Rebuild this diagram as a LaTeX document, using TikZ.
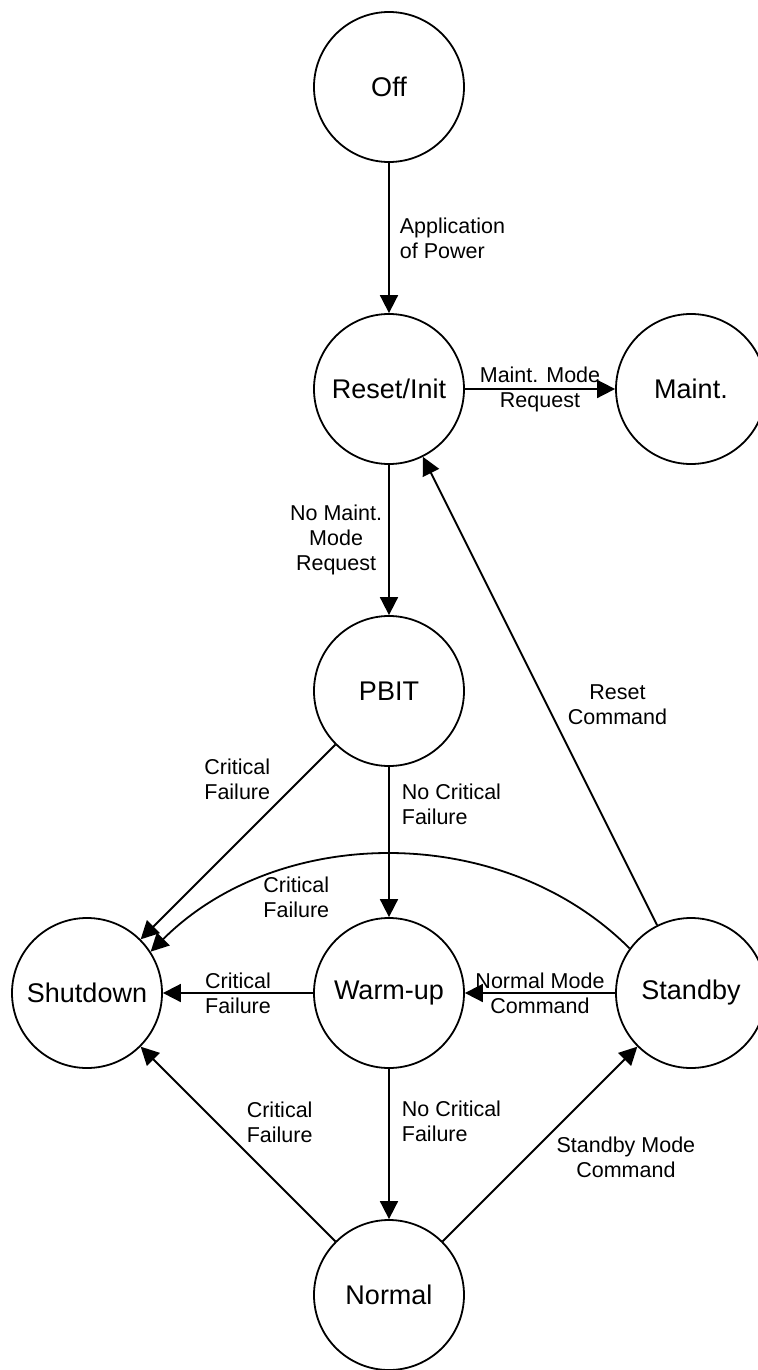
\documentclass[tikz,border=0pt]{standalone}
\usepackage{fontspec}
\setmainfont{Liberation Sans}
\usepackage{tikz}
\usetikzlibrary{arrows.meta,positioning}

\tikzset{
  state/.style={circle,draw,line width=.9pt,minimum size=75pt,inner sep=0pt,
    font=\fontsize{13.5}{16}\selectfont},
  trans/.style={-{Triangle[length=9pt,width=9pt]},line width=.9pt},
  tlabel/.style={font=\fontsize{10.75}{12.5}\selectfont,align=center,inner sep=2pt}
}

\begin{document}
\begin{tikzpicture}[x=151pt,y=151pt]
    \useasboundingbox (-43.5pt,43.5pt) rectangle (335pt,-641.5pt);
    % states on a 3 x 5 grid
    \node[state] (off) at (1,0) {Off};
    \node[state] (reset) at (1,-1) {Reset/Init};
    \node[state] (maint) at (2,-1) {Maint.};
    \node[state] (pbit) at (1,-2) {PBIT};
    \node[state] (shutdown) at (0,-3) {Shutdown};
    \node[state] (warmup) at (1,-3) {Warm-up};
    \node[state] (standby) at (2,-3) {Standby};
    \node[state] (normal) at (1,-4) {Normal};
    % transitions
    \draw[trans] (off) -- node[tlabel,right=3pt,align=left] {Application\\of Power} (reset);
    \draw[trans] (reset) -- node[tlabel] {Maint. Mode\\Request} (maint);
    \draw[trans] (reset) -- node[tlabel,left=1pt] {No Maint.\\Mode\\Request} (pbit);
    \draw[trans] (standby) -- node[tlabel,pos=.47,right=8pt] {Reset\\Command} (reset);
    \draw[trans] (pbit) -- node[tlabel,pos=.31,above left] {Critical\\Failure} (shutdown);
    \draw[trans] (pbit) -- node[tlabel,pos=.25,right=4pt,align=left] {No Critical\\Failure} (warmup);
    \draw[trans] (standby.144) .. controls +(135:90pt) and +(45:90pt) .. node[tlabel,pos=.68,below=2pt] {Critical\\Failure} (shutdown.33);
    \draw[trans] (warmup) -- node[tlabel] {Critical\\Failure} (shutdown);
    \draw[trans] (standby) -- node[tlabel] {Normal Mode\\Command} (warmup);
    \draw[trans] (warmup) -- node[tlabel,pos=.35,right=4pt,align=left] {No Critical\\Failure} (normal);
    \draw[trans] (normal) -- node[tlabel,pos=.48,above right] {Critical\\Failure} (shutdown);
    \draw[trans] (normal) -- node[tlabel,pos=.56,below right] {Standby Mode\\Command} (standby);
\end{tikzpicture}
\end{document}
